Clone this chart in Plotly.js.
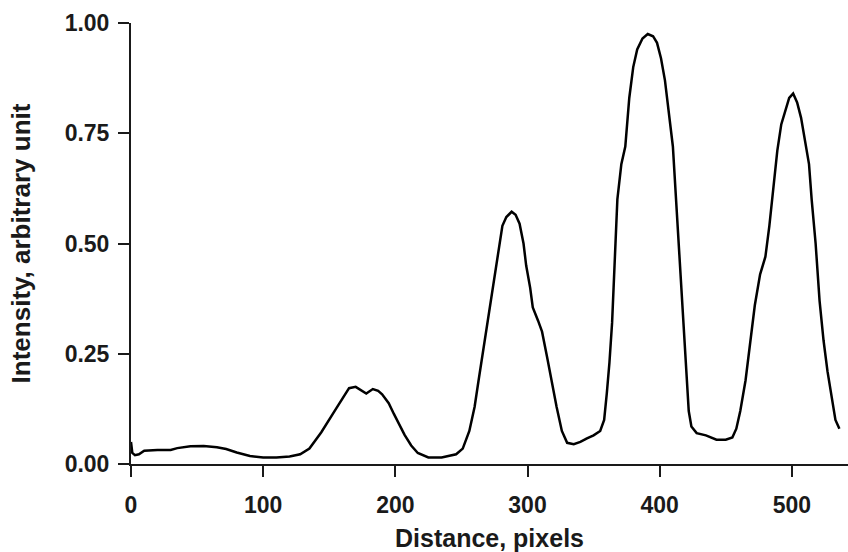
<!DOCTYPE html>
<html>
<head>
<meta charset="utf-8">
<script src="https://cdn.plot.ly/plotly-3.0.1.min.js"></script>
<style>html,body{margin:0;padding:0;background:#fff;}#chart{width:848px;height:552px;}</style>
</head>
<body>
<div id="chart"></div>
<script>
// Distance along the profile (pixels)
const distance = [0,1,3,6,10,20,30,35,45,55,65,72,80,90,100,110,120,128,135,144,154,160,165,170,175,178,183,187,190,195,199,203,207,212,217,225,235,246,251,256,260,263,267,271,275,278,281,284,288,291,294,297,299,302,304,308,311,315,318,322,326,330,335,340,345,350,355,358,360,362,364,366,368,371,374,377,380,383,387,391,395,398,401,404,406,408,410,412,414,416,418,420,422,424,428,435,443,450,455,458,461,465,469,472,476,480,483,486,489,492,495,498,501,504,507,510,513,515,518,521,524,527,530,533,536];
// Intensity (arbitrary unit)
const intensity = [0.05,0.025,0.02,0.022,0.03,0.032,0.032,0.036,0.04,0.041,0.038,0.034,0.026,0.018,0.015,0.015,0.017,0.022,0.035,0.072,0.12,0.15,0.172,0.175,0.165,0.16,0.17,0.166,0.158,0.138,0.113,0.09,0.066,0.042,0.025,0.015,0.015,0.022,0.035,0.075,0.13,0.19,0.27,0.34,0.42,0.48,0.54,0.56,0.572,0.565,0.545,0.5,0.45,0.4,0.355,0.325,0.3,0.24,0.19,0.13,0.075,0.048,0.045,0.05,0.058,0.065,0.075,0.1,0.16,0.23,0.32,0.45,0.6,0.68,0.72,0.83,0.9,0.94,0.965,0.975,0.97,0.955,0.92,0.87,0.82,0.77,0.72,0.62,0.52,0.42,0.33,0.22,0.12,0.085,0.07,0.065,0.055,0.055,0.06,0.08,0.12,0.19,0.28,0.36,0.43,0.47,0.54,0.63,0.71,0.77,0.8,0.83,0.84,0.82,0.785,0.73,0.68,0.6,0.5,0.37,0.28,0.21,0.15,0.1,0.08];
const xTicks = [0,100,200,300,400,500];
const xTickText = ['0','100','200','300','400','500'];
const yTicks = [0,0.25,0.5,0.75,1];
const yTickText = ['0.00','0.25','0.50','0.75','1.00'];

const ink = '#1a1a1a';
const fam = 'Liberation Sans, Arial, sans-serif';
const axisCommon = {
  showline: true, linewidth: 2, linecolor: ink,
  ticks: 'outside', ticklen: 11, tickwidth: 2, tickcolor: ink,
  showgrid: false, zeroline: false, tickmode: 'array',
  tickfont: {family: fam, size: 23, color: ink, weight: 'bold'}
};

const trace = {
  x: distance, y: intensity, type: 'scatter', mode: 'lines',
  line: {color: '#000', width: 2.5}, cliponaxis: false, hoverinfo: 'skip'
};

const layout = {
  width: 848, height: 552,
  margin: {l: 130.5, r: 0, t: 23.3, b: 88},
  paper_bgcolor: '#fff', plot_bgcolor: '#fff',
  showlegend: false,
  xaxis: Object.assign({}, axisCommon, {
    range: [0, 542.5], tickvals: xTicks, ticktext: xTickText,
    ticklabelstandoff: 8,
    title: {text: 'Distance, pixels', standoff: 34, font: {family: fam, size: 25, color: ink, weight: 'bold'}}
  }),
  yaxis: Object.assign({}, axisCommon, {
    range: [0, 1], tickvals: yTicks, ticktext: yTickText,
    ticklabelstandoff: 4,
    title: {text: 'Intensity, arbitrary unit', standoff: 27, font: {family: fam, size: 26, color: ink, weight: 'bold'}}
  })
};

Plotly.newPlot('chart', [trace], layout, {displayModeBar: false, staticPlot: true});
</script>
</body>
</html>
